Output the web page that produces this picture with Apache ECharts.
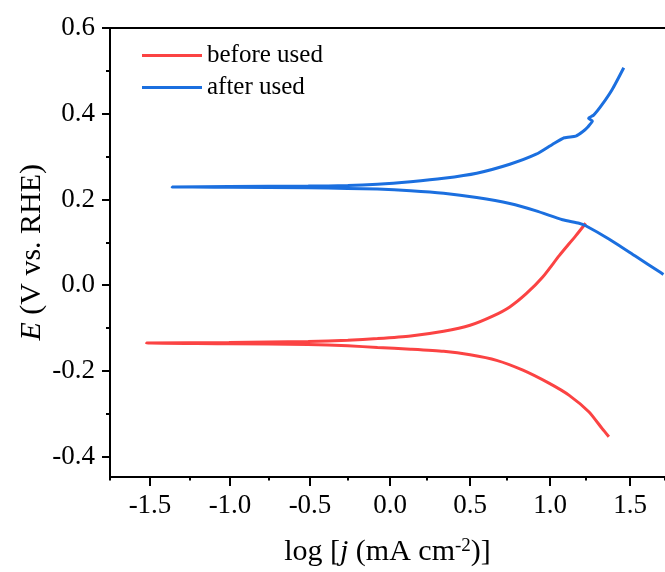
<!DOCTYPE html>
<html>
<head>
<meta charset="utf-8">
<script src="https://cdn.jsdelivr.net/npm/echarts@6/dist/echarts.min.js"></script>
<style>
html,body{margin:0;padding:0;background:#fff;}
#chart{width:665px;height:572px;}
</style>
</head>
<body>
<div id="chart"></div>
<script>
// ---- data (log j in mA cm^-2, E in V vs. RHE), ordered along the potential scan ----
var seriesNames = ['before used', 'after used'];

var beforeX = [1.396, 1.354, 1.271, 1.146, 1.021, 0.854, 0.688, 0.521, 0.354, 0.146, -0.063, -0.25, -0.5, -1.0, -1.52,
               -1.0, -0.5, -0.25, -0.063, 0.146, 0.354, 0.521, 0.667, 0.771, 0.875, 0.979, 1.083, 1.188, 1.25];
var beforeE = [-0.357, -0.338, -0.299, -0.260, -0.232, -0.201, -0.178, -0.165, -0.157, -0.152, -0.148, -0.144, -0.141, -0.139, -0.1375,
               -0.136, -0.134, -0.131, -0.127, -0.121, -0.110, -0.096, -0.074, -0.053, -0.022, 0.017, 0.067, 0.114, 0.143];

var afterX = [1.74, 1.72, 1.5625, 1.396, 1.25, 1.208, 1.104, 0.9375, 0.771, 0.5625, 0.354, 0.146, -0.063, -0.25, -0.5, -1.0, -1.358,
              -1.0, -0.5, -0.25, -0.063, 0.146, 0.354, 0.5625, 0.771, 0.9375, 1.042, 1.115, 1.1875, 1.23, 1.265, 1.292, 1.268, 1.300, 1.354, 1.417, 1.49];
var afterE = [0.023, 0.028, 0.066, 0.106, 0.137, 0.143, 0.151, 0.172, 0.189, 0.203, 0.213, 0.219, 0.223, 0.2245, 0.226, 0.227, 0.228,
              0.229, 0.230, 0.231, 0.234, 0.240, 0.248, 0.260, 0.281, 0.3045, 0.328, 0.343, 0.347, 0.357, 0.369, 0.382, 0.389, 0.396, 0.421, 0.456, 0.507];

// axis ranges and tick steps
var xRange = [-1.75, 1.75];
var xTickRange = [-1.5, 1.5];   // labelled major ticks -1.5 ... 1.5
var xStep = 0.5;
var yRange = [-0.45, 0.6];
var yTickRange = [-0.4, 0.6];   // labelled major ticks -0.4 ... 0.6
var yStep = 0.2;

function zip(xs, ys) { return xs.map(function (x, i) { return [x, ys[i]]; }); }

var FONT = '"Liberation Serif", "Times New Roman", serif';
var axisLineStyle = { color: '#000', width: 2 };

// plot box geometry (pixels)
var PL = 110, PT = 28, PW = 560, PH = 450;
var pxPerX = PW / (xRange[1] - xRange[0]);
var pxPerY = PH / (yRange[1] - yRange[0]);

var chart = echarts.init(document.getElementById('chart'));
chart.setOption({
  animation: false,
  backgroundColor: '#fff',
  grid: [
    // 0: main plot
    { left: PL, top: PT, width: PW, height: PH },
    // 1: helper for labelled x ticks
    { left: PL + (xTickRange[0] - xRange[0]) * pxPerX, top: PT, width: (xTickRange[1] - xTickRange[0]) * pxPerX, height: PH },
    // 2: helper for labelled y ticks
    { left: PL, top: PT + (yRange[1] - yTickRange[1]) * pxPerY, width: PW, height: (yTickRange[1] - yTickRange[0]) * pxPerY }
  ],
  legend: {
    orient: 'vertical',
    left: 142, top: 43, padding: 0,
    itemWidth: 60, itemHeight: 3, itemGap: 7,
    icon: 'rect',
    textStyle: { fontFamily: FONT, fontSize: 25, color: '#000', lineHeight: 25 },
    data: seriesNames
  },
  xAxis: [
    {
      gridIndex: 0, type: 'value', min: xRange[0], max: xRange[1], interval: xStep, position: 'bottom',
      axisLine: { show: true, onZero: false, lineStyle: axisLineStyle },
      axisTick: { show: true, length: 4, lineStyle: { width: 2, color: '#000' } },
      axisLabel: { show: false },
      splitLine: { show: false },
      name: 'log [{i|j} (mA cm{sup|-2})]',
      nameLocation: 'middle', nameGap: 60,
      nameTextStyle: { fontFamily: FONT, fontSize: 30, color: '#000',
        rich: { i: { fontFamily: FONT, fontSize: 30, fontStyle: 'italic', color: '#000' },
                sup: { fontFamily: FONT, fontSize: 19, color: '#000', verticalAlign: 'top', padding: [0, 0, 12, 0] } } }
    },
    {
      gridIndex: 0, type: 'value', min: xRange[0], max: xRange[1], position: 'top',
      axisLine: { show: true, onZero: false, lineStyle: axisLineStyle },
      axisTick: { show: false }, axisLabel: { show: false }, splitLine: { show: false }
    },
    {
      gridIndex: 1, type: 'value', min: xTickRange[0], max: xTickRange[1], interval: xStep, position: 'bottom',
      axisLine: { show: false, onZero: false },
      axisTick: { show: true, length: 8, lineStyle: { width: 2, color: '#000' } },
      axisLabel: { margin: 14, fontFamily: FONT, fontSize: 27, color: '#000',
        formatter: function (v) { return v.toFixed(1); } },
      splitLine: { show: false }
    },
    { gridIndex: 2, type: 'value', show: false, min: 0, max: 1 }
  ],
  yAxis: [
    {
      gridIndex: 0, type: 'value', min: yRange[0], max: yRange[1], position: 'left',
      axisLine: { show: true, onZero: false, lineStyle: axisLineStyle },
      axisTick: { show: false }, axisLabel: { show: false },
      splitLine: { show: false },
      name: '{i|E} (V vs. RHE)',
      nameLocation: 'middle', nameGap: 63, nameRotate: 90,
      nameTextStyle: { fontFamily: FONT, fontSize: 30, color: '#000',
        rich: { i: { fontFamily: FONT, fontSize: 30, fontStyle: 'italic', color: '#000' } } }
    },
    { gridIndex: 1, type: 'value', show: false, min: 0, max: 1 },
    {
      gridIndex: 2, type: 'value', min: yTickRange[0], max: yTickRange[1], interval: yStep, position: 'left',
      axisLine: { show: false, onZero: false },
      axisTick: { show: true, length: 8, lineStyle: { width: 2, color: '#000' } },
      minorTick: { show: true, splitNumber: 2, length: 4, lineStyle: { width: 2, color: '#000' } },
      axisLabel: { margin: 15, fontFamily: FONT, fontSize: 27, color: '#000',
        formatter: function (v) { return v.toFixed(1); } },
      splitLine: { show: false }
    }
  ],
  series: [
    {
      name: seriesNames[0], type: 'line', xAxisIndex: 0, yAxisIndex: 0,
      data: zip(beforeX, beforeE), showSymbol: false, symbol: 'none', smooth: 0.2,
      lineStyle: { color: '#fb4343', width: 3 }, itemStyle: { color: '#fb4343' }
    },
    {
      name: seriesNames[1], type: 'line', xAxisIndex: 0, yAxisIndex: 0,
      data: zip(afterX, afterE), showSymbol: false, symbol: 'none', smooth: 0.2,
      lineStyle: { color: '#1b6fdf', width: 3 }, itemStyle: { color: '#1b6fdf' }
    }
  ]
});
</script>
</body>
</html>
